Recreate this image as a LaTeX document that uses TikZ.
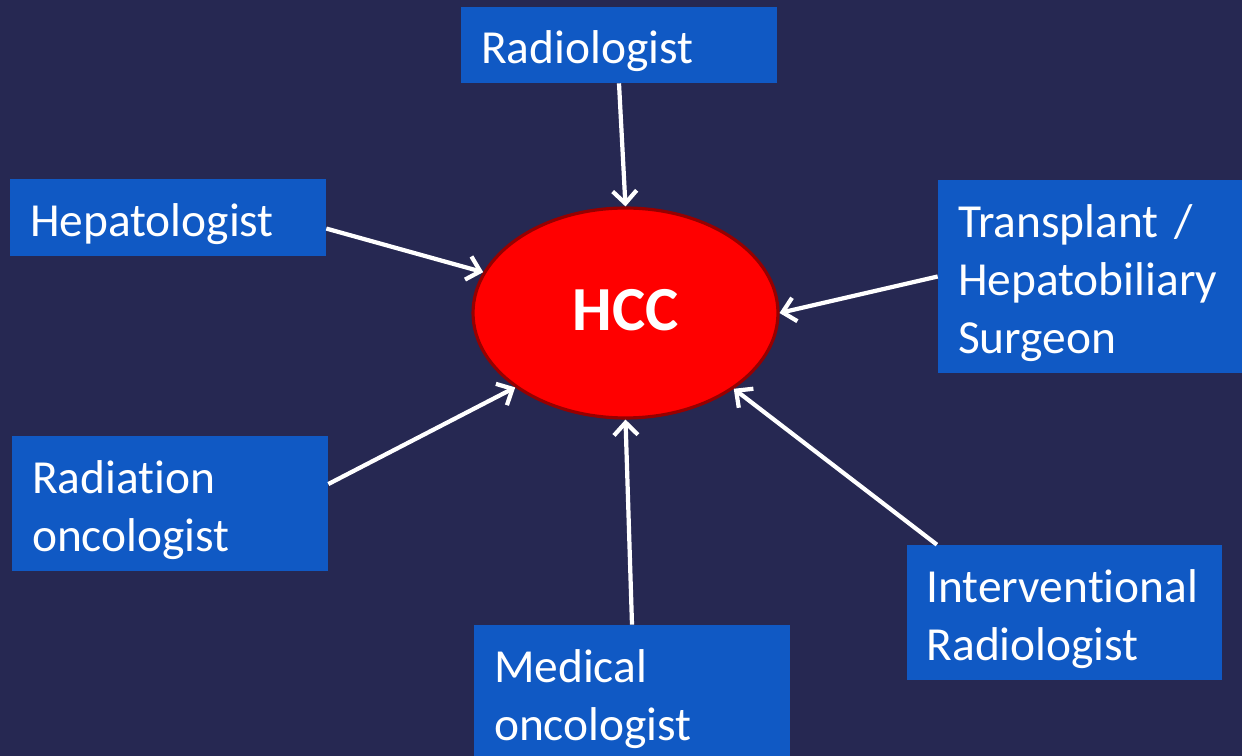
\documentclass[tikz,border=0pt]{standalone}
\usepackage{tikz}
\usetikzlibrary{shapes.geometric,arrows.meta}
\usepackage{xcolor}
\usepackage{fontspec}
\setmainfont{Carlito}[Ligatures=NoCommon]
\definecolor{slidebg}{RGB}{38,40,82}
\definecolor{boxblue}{RGB}{16,89,196}
\definecolor{hccred}{RGB}{255,0,0}
\definecolor{hccrim}{RGB}{150,0,0}
\newcommand{\rolebox}[5] {
    \node[role,minimum height=#3] (#5) at (#1, #2) {\rule{0pt}{26pt}#4};
}

\begin{document}
\begin{tikzpicture}
    \tikzset{
        x=0.02cm,y=-0.02cm,
        role/.style={rectangle,fill=boxblue,minimum width=6.32cm,
            text width=5.52cm,inner xsep=0.4cm,inner ysep=0pt,align=left,
            text=white,font=\fontsize{27}{33}\selectfont},
        feed/.style={white,line width=2.4pt,
            -{Straight Barb[length=2.5mm,width=4.8mm]}}
    }
    \fill[slidebg] (0,0) rectangle (1242,756);
    \clip (0,0) rectangle (1242,756);
    % centre
    \node[ellipse,draw=hccrim,line width=1.8pt,fill=hccred,inner sep=0pt,
        minimum width=6.1cm,minimum height=4.2cm,text=white,
        font=\fontsize{35.7}{40}\selectfont\bfseries] (hcc) at (625.5,313)
        {\raisebox{3pt}{HCC}};
    % team
    \rolebox{619}{45}{1.52cm}{Radiologist}{radiol}
    \rolebox{168}{217.5}{1.54cm}{Hepatologist}{hepat}
    \rolebox{1096}{276.5}{3.86cm}{Transplant /\\Hepatobiliary\\Surgeon}{transp}
    \rolebox{170}{503.5}{2.7cm}{Radiation\\oncologist}{radonc}
    \rolebox{632}{692.5}{2.7cm}{Medical\\oncologist}{medonc}
    \rolebox{1064.5}{612.5}{2.7cm}{Interventional\\Radiologist}{intrad}
    % arrows
    \draw[feed] (radiol.south) -- (hcc.north);
    \draw[feed] (hepat.-4) -- (hcc.164);
    \draw[feed] (transp.west) -- (hcc.east);
    \draw[feed] (radonc.7) -- (hcc.214);
    \draw[feed] (medonc.north) -- (hcc.south);
    \draw[feed] (intrad.152) -- (hcc.-35);
\end{tikzpicture}
\end{document}
